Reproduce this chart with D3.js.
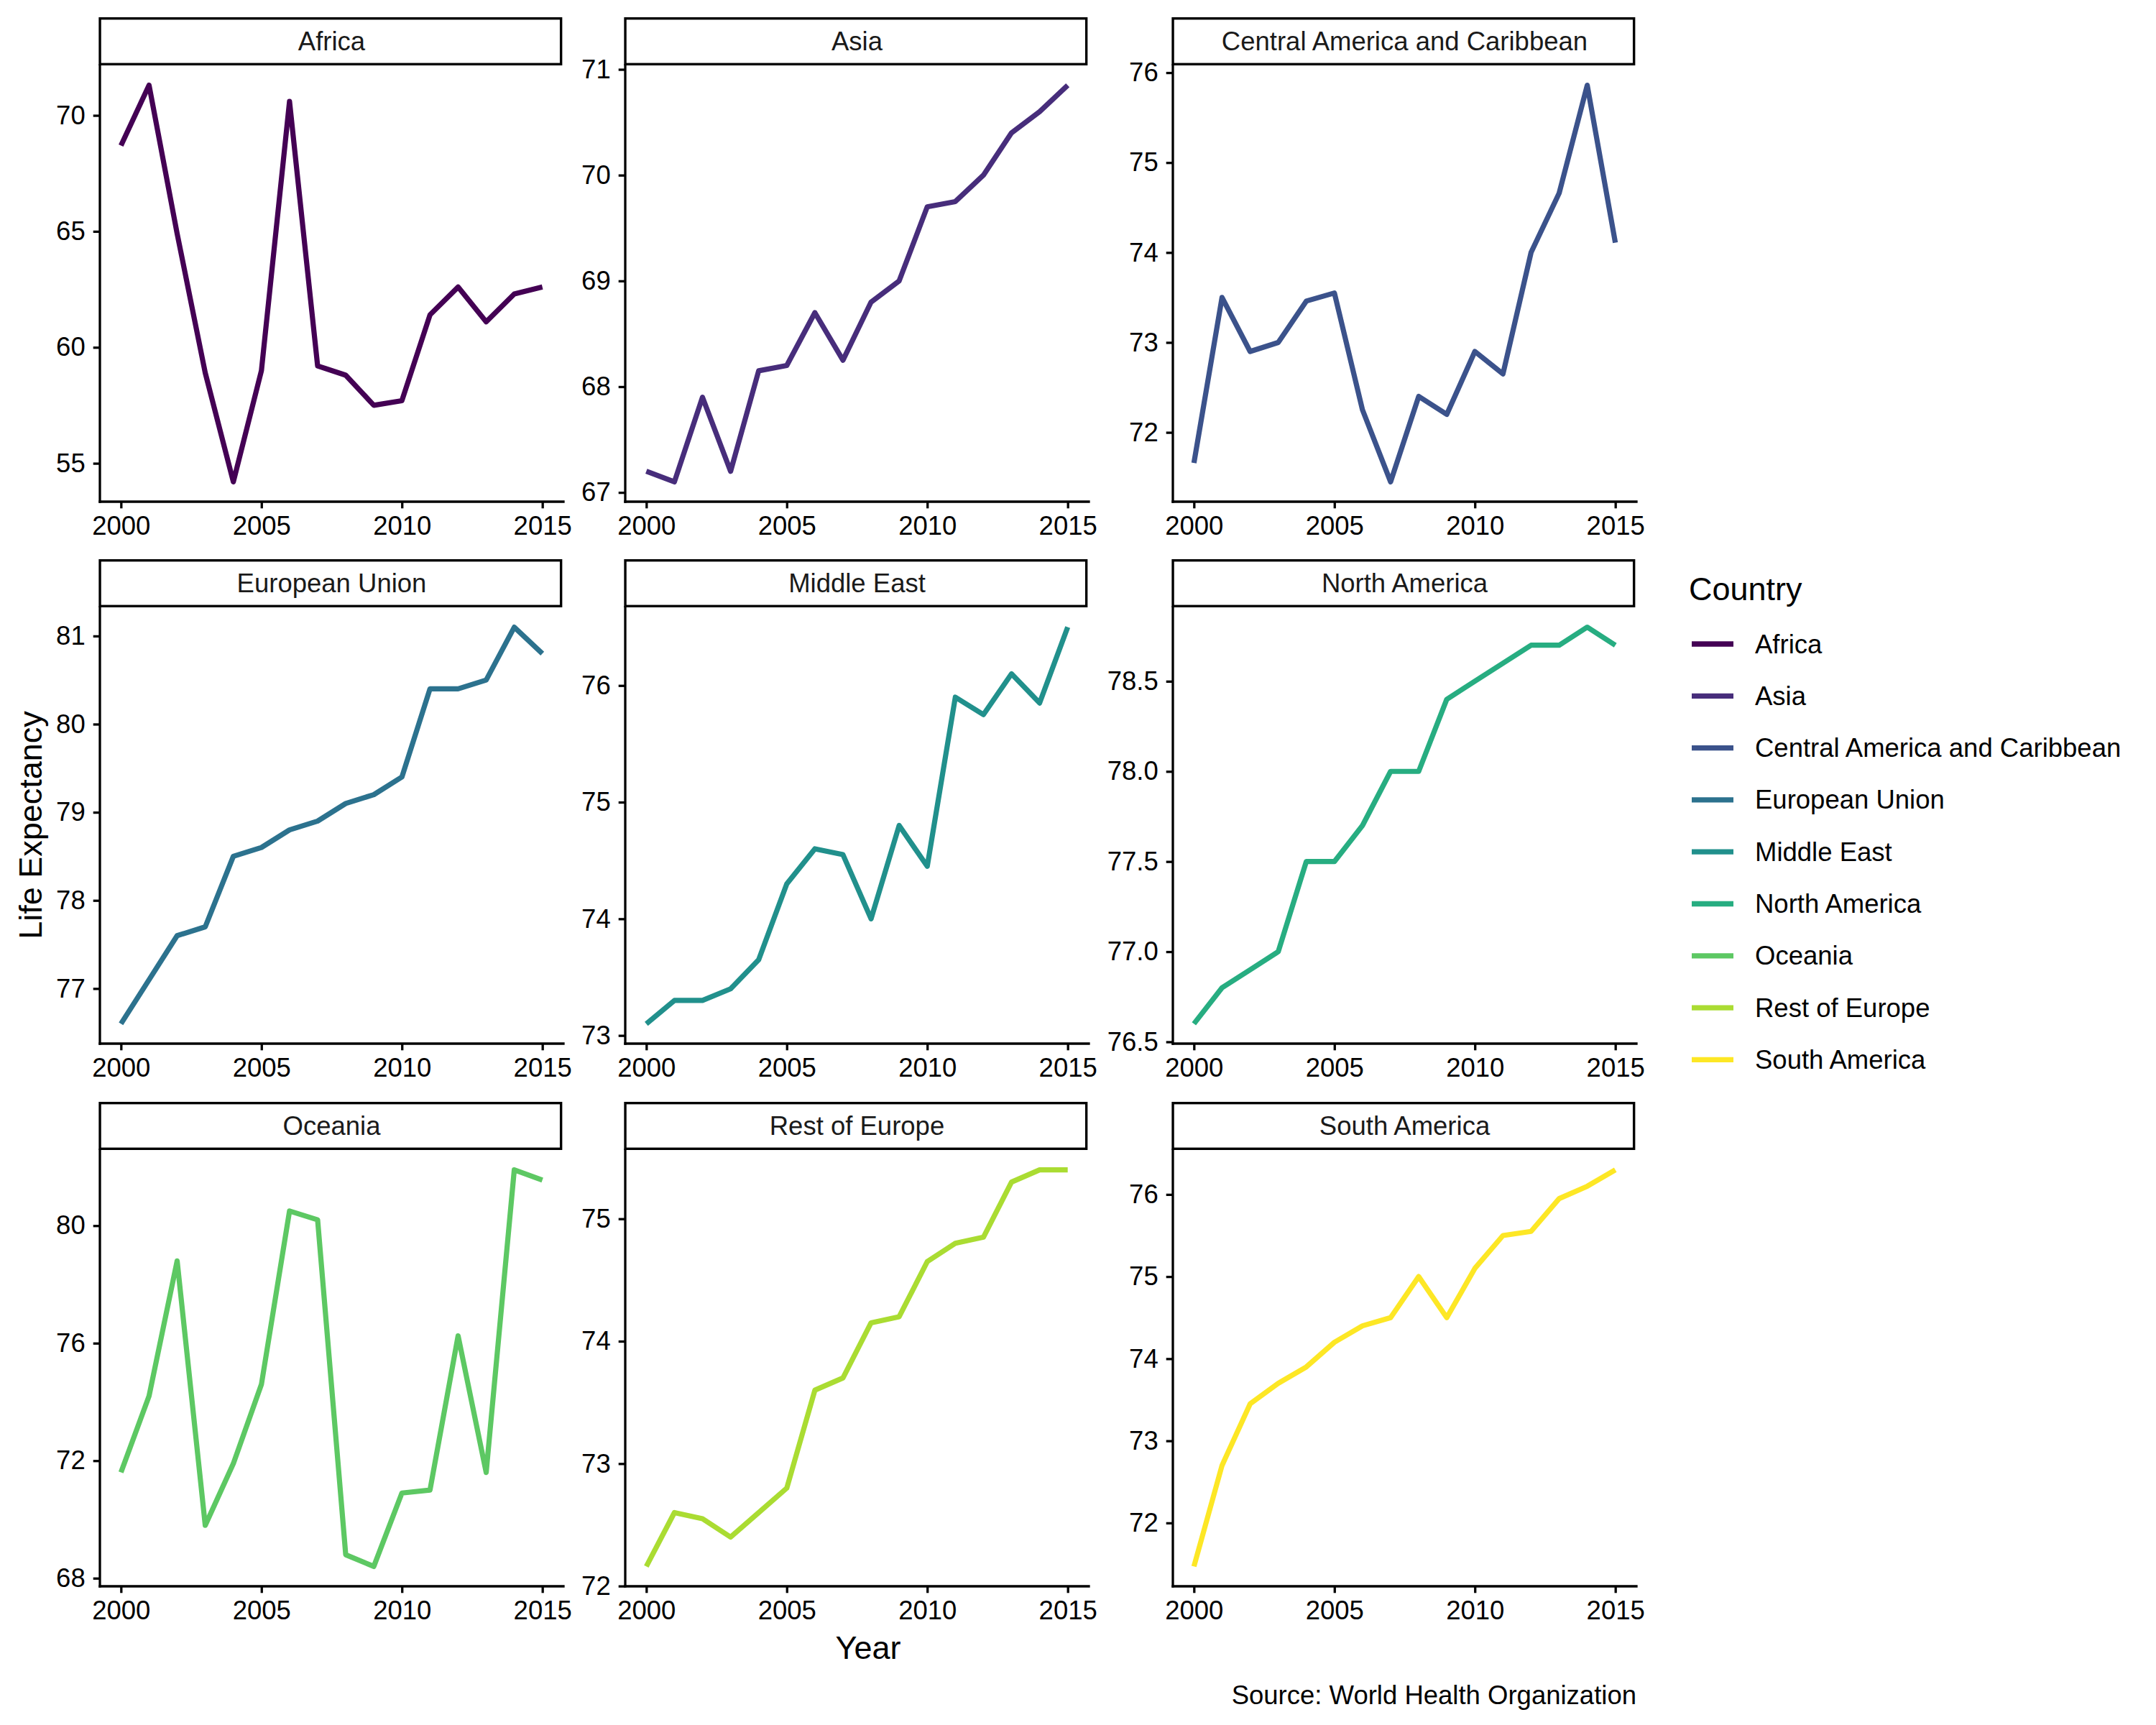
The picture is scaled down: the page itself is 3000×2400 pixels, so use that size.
<!DOCTYPE html>
<html>
<head>
<meta charset="utf-8">
<script src="https://cdn.jsdelivr.net/npm/d3@7"></script>
<style>
  body { margin: 0; background: #fff; }
  svg { display: block; }
  text { font-family: "Liberation Sans", Arial, sans-serif; }
</style>
</head>
<body>
<svg id="chart" width="3000" height="2400"></svg>
<script>
let years = [2000, 2001, 2002, 2003, 2004, 2005, 2006, 2007, 2008, 2009, 2010, 2011, 2012, 2013, 2014, 2015];

let regions = ["Africa", "Asia", "Central America and Caribbean", "European Union", "Middle East",
               "North America", "Oceania", "Rest of Europe", "South America"];

let colors = ["#440154", "#472D7B", "#3B528B", "#2C728E", "#21908C", "#27AD81", "#5DC863", "#AADC32", "#FDE725"];

// life expectancy per year
let africa   = [68.7, 71.3, 64.9, 58.9, 54.2, 59.0, 70.6, 59.2, 58.8, 57.5, 57.7, 61.4, 62.6, 61.1, 62.3, 62.6];
let asia     = [67.2, 67.1, 67.9, 67.2, 68.15, 68.2, 68.7, 68.25, 68.8, 69.0, 69.7, 69.75, 70.0, 70.4, 70.6, 70.85];
let centralAm = [71.66, 73.5, 72.9, 73.0, 73.46, 73.55, 72.25, 71.45, 72.4, 72.2, 72.9, 72.65, 74.0, 74.66, 75.86, 74.11];
let euUnion  = [76.6, 77.1, 77.6, 77.7, 78.5, 78.6, 78.8, 78.9, 79.1, 79.2, 79.4, 80.4, 80.4, 80.5, 81.1, 80.8];
let midEast  = [73.1, 73.3, 73.3, 73.4, 73.65, 74.3, 74.6, 74.55, 74.0, 74.8, 74.45, 75.9, 75.75, 76.1, 75.85, 76.5];
let northAm  = [76.6, 76.8, 76.9, 77.0, 77.5, 77.5, 77.7, 78.0, 78.0, 78.4, 78.5, 78.6, 78.7, 78.7, 78.8, 78.7];
let oceania  = [71.6, 74.2, 78.8, 69.8, 71.9, 74.6, 80.5, 80.2, 68.8, 68.4, 70.9, 71.0, 76.25, 71.6, 81.9, 81.55];
let restEu   = [72.16, 72.6, 72.55, 72.4, 72.6, 72.8, 73.6, 73.7, 74.15, 74.2, 74.65, 74.8, 74.85, 75.3, 75.4, 75.4];
let southAm  = [71.47, 72.7, 73.45, 73.7, 73.9, 74.2, 74.4, 74.5, 75.0, 74.5, 75.1, 75.5, 75.55, 75.95, 76.1, 76.3];

let seriesValues = [africa, asia, centralAm, euUnion, midEast, northAm, oceania, restEu, southAm];

let xTicks = [2000, 2005, 2010, 2015];
let yTicks = [
  [55, 60, 65, 70],
  [67, 68, 69, 70, 71],
  [72, 73, 74, 75, 76],
  [77, 78, 79, 80, 81],
  [73, 74, 75, 76],
  [76.5, 77.0, 77.5, 78.0, 78.5],
  [68, 72, 76, 80],
  [72, 73, 74, 75],
  [72, 73, 74, 75, 76]
];

let svg = d3.select("#chart");

let panelLeft = [139, 870, 1632];
let panelTop = [91, 845, 1600];
let panelW = 645;
let panelH = 607;
let stripH = 67;
let axisW = 3.3;
let tickLen = 9.3;
let smallFont = 36.5;

let drawPanel = (i) => {
    let col = i % 3;
    let row = Math.floor(i / 3);
    let x0 = panelLeft[col];
    let y0 = panelTop[row];
    let vals = seriesValues[i];

    let x = d3.scaleLinear()
        .domain([2000 - 0.75, 2015 + 0.75])
        .range([x0, x0 + panelW]);

    let lo = d3.min(vals);
    let hi = d3.max(vals);
    let pad = (hi - lo) * 0.05;
    let y = d3.scaleLinear()
        .domain([lo - pad, hi + pad])
        .range([y0 + panelH, y0]);

    let g = svg.append("g").attr("class", "panel");

    // data line
    let line = d3.line()
        .x((d, k) => x(years[k]))
        .y((d) => y(d));
    g.append("path")
        .datum(vals)
        .attr("d", line)
        .attr("fill", "none")
        .attr("stroke", colors[i])
        .attr("stroke-width", 7.2)
        .attr("stroke-linejoin", "round")
        .attr("stroke-linecap", "butt");

    // x axis
    let xAxis = d3.axisBottom(x).tickValues(xTicks).tickFormat(d3.format("d"))
        .tickSize(tickLen).tickPadding(11);
    let gx = g.append("g")
        .attr("transform", "translate(0," + (y0 + panelH) + ")")
        .call(xAxis);

    // y axis
    let fmt = (i === 5) ? d3.format(".1f") : d3.format("d");
    let yAxis = d3.axisLeft(y).tickValues(yTicks[i]).tickFormat(fmt)
        .tickSize(tickLen).tickPadding(11);
    let gy = g.append("g")
        .attr("transform", "translate(" + x0 + ",0)")
        .call(yAxis);

    [gx, gy].forEach((ax) => {
        ax.select(".domain").remove();
        ax.selectAll(".tick line").attr("stroke", "#000").attr("stroke-width", axisW);
        ax.selectAll(".tick text").attr("fill", "#000").attr("font-size", smallFont)
            .style("font-family", "'Liberation Sans', Arial, sans-serif");
    });

    // axis lines
    g.append("line")
        .attr("x1", x0).attr("x2", x0 + panelW)
        .attr("y1", y0 + panelH).attr("y2", y0 + panelH)
        .attr("stroke", "#000").attr("stroke-width", axisW).attr("stroke-linecap", "square");
    g.append("line")
        .attr("x1", x0).attr("x2", x0)
        .attr("y1", y0).attr("y2", y0 + panelH)
        .attr("stroke", "#000").attr("stroke-width", axisW).attr("stroke-linecap", "square");

    // strip
    g.append("rect")
        .attr("x", x0 - axisW / 2 + 1.7)
        .attr("y", y0 - stripH + 1.7)
        .attr("width", panelW - 3.4)
        .attr("height", stripH - 3.4)
        .attr("fill", "#fff")
        .attr("stroke", "#000")
        .attr("stroke-width", 3.4);
    g.append("text")
        .attr("x", x0 + panelW / 2)
        .attr("y", y0 - stripH / 2)
        .attr("text-anchor", "middle")
        .attr("dominant-baseline", "central")
        .attr("font-size", smallFont)
        .attr("fill", "#1a1a1a")
        .text(regions[i]);
};

regions.forEach((r, i) => drawPanel(i));

// axis titles
svg.append("text")
    .attr("transform", "translate(42,1148) rotate(-90)")
    .attr("text-anchor", "middle")
    .attr("dominant-baseline", "central")
    .attr("font-size", 45)
    .text("Life Expectancy");

svg.append("text")
    .attr("x", (panelLeft[0] + panelLeft[2] + panelW) / 2)
    .attr("y", 2308)
    .attr("text-anchor", "middle")
    .attr("font-size", 45)
    .text("Year");

svg.append("text")
    .attr("x", panelLeft[2] + panelW)
    .attr("y", 2371)
    .attr("text-anchor", "end")
    .attr("font-size", smallFont)
    .text("Source: World Health Organization");

// legend
let legend = svg.append("g");
legend.append("text")
    .attr("x", 2350)
    .attr("y", 835)
    .attr("font-size", 45)
    .text("Country");

let items = legend.selectAll(".item")
    .data(regions)
    .enter()
    .append("g")
    .attr("class", "item")
    .attr("transform", (d, i) => "translate(0," + (896 + i * 72.3) + ")");

items.append("line")
    .attr("x1", 2354).attr("x2", 2412)
    .attr("y1", 0).attr("y2", 0)
    .attr("stroke", (d, i) => colors[i])
    .attr("stroke-width", 7.3);

items.append("text")
    .attr("x", 2442)
    .attr("y", 0)
    .attr("dominant-baseline", "central")
    .attr("font-size", smallFont)
    .text((d) => d);
</script>
</body>
</html>
